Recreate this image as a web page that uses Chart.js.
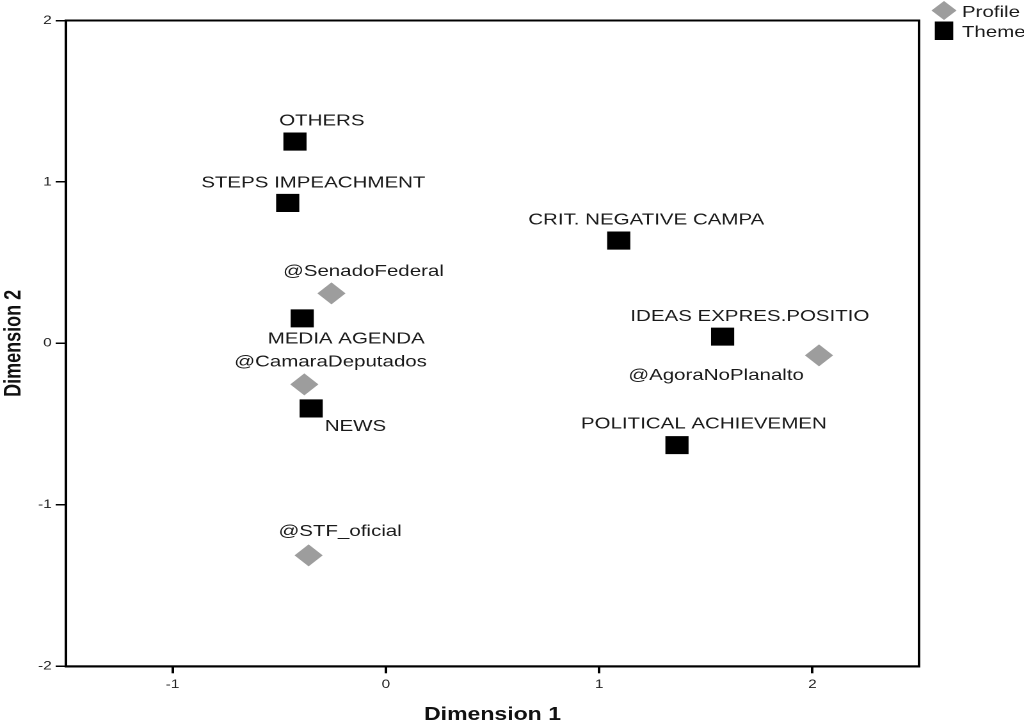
<!DOCTYPE html>
<html>
<head>
<meta charset="utf-8">
<script src="https://cdn.jsdelivr.net/npm/chart.js@4/dist/chart.umd.min.js"></script>
<style>
  html, body { margin: 0; padding: 0; background: #fff; }
  #wrap { width: 1024px; height: 721px; }
</style>
</head>
<body>
<div id="wrap">
  <!-- drawn at 800 wide and shown at 1024, like the stretched SPSS export -->
  <canvas id="mapChart" width="800" height="721" style="width:1024px;height:721px"></canvas>
</div>
<script>
// data
const profileLabels = ['@SenadoFederal', '@CamaraDeputados', '@AgoraNoPlanalto', '@STF_oficial'];
const profileX = [-0.255, -0.382, 2.031, -0.362];
const profileY = [0.31, -0.254, -0.074, -1.313];

const themeLabels = ['OTHERS', 'STEPS IMPEACHMENT', 'CRIT. NEGATIVE CAMPA', 'MEDIA AGENDA',
                     'IDEAS EXPRES.POSITIO', 'NEWS', 'POLITICAL ACHIEVEMEN'];
const themeX = [-0.426, -0.46, 1.092, -0.392, 1.579, -0.35, 1.365];
const themeY = [1.25, 0.87, 0.637, 0.155, 0.042, -0.403, -0.63];

const xTicks = [-1, 0, 1, 2];
const yTicks = [-2, -1, 0, 1, 2];

// where each label sits next to its point (px)
const labelShift = {
    'OTHERS': [21, -20.5],
    'STEPS IMPEACHMENT': [20, -20],
    'CRIT. NEGATIVE CAMPA': [21.5, -20.3],
    'MEDIA AGENDA': [34.4, 20.8],
    'IDEAS EXPRES.POSITIO': [21.3, -20],
    'NEWS': [34.6, 18],
    'POLITICAL ACHIEVEMEN': [21, -20.8],
    '@SenadoFederal': [25, -22],
    '@CamaraDeputados': [20.5, -22.3],
    '@AgoraNoPlanalto': [-80.4, 20],
    '@STF_oficial': [24.6, -23.7]
};

const grey = '#9d9d9d';

function toPoints(xs, ys){
    return xs.map((x, i) => ({ x: x, y: ys[i] }));
}

const pointLabels = {
    id: 'pointLabels',
    afterDatasetsDraw(chart){
        const ctx = chart.ctx;
        ctx.save();
        ctx.font = '16px "Liberation Sans", Arial, sans-serif';
        ctx.fillStyle = '#1a1a1a';
        ctx.textAlign = 'center';
        ctx.textBaseline = 'middle';
        chart.data.datasets.forEach((ds, d) => {
            const meta = chart.getDatasetMeta(d);
            meta.data.forEach((pt, i) => {
                const name = ds.names[i];
                const s = labelShift[name] || [0, -20];
                ctx.fillText(name, pt.x + s[0], pt.y + s[1]);
            });
        });
        ctx.restore();
    }
};

const frameAndLegend = {
    id: 'frameAndLegend',
    afterDraw(chart){
        const ctx = chart.ctx;
        const a = chart.chartArea;
        ctx.save();
        ctx.strokeStyle = '#000';
        ctx.lineWidth = 2;
        ctx.strokeRect(a.left, a.top, a.right - a.left, a.bottom - a.top);

        // legend, top right outside the frame
        const lx = 737.5;
        ctx.fillStyle = grey;
        ctx.beginPath();
        ctx.moveTo(lx - 9.8, 10.5);
        ctx.lineTo(lx, 1);
        ctx.lineTo(lx + 9.8, 10.5);
        ctx.lineTo(lx, 20);
        ctx.closePath();
        ctx.fill();
        ctx.fillStyle = '#000';
        ctx.fillRect(lx - 7.2, 21.5, 14.4, 18.5);

        ctx.font = '16px "Liberation Sans", Arial, sans-serif';
        ctx.fillStyle = '#1a1a1a';
        ctx.textAlign = 'left';
        ctx.textBaseline = 'middle';
        ctx.fillText(chart.data.datasets[0].label, 751.5, 12.5);
        ctx.fillText(chart.data.datasets[1].label, 751.5, 32.5);
        ctx.restore();
    }
};

new Chart('mapChart', {
    type: 'scatter',
    data: {
        datasets: [
        {
            label: 'Profile',
            names: profileLabels,
            data: toPoints(profileX, profileY),
            pointStyle: 'rectRot',
            pointRadius: 11,
            pointHoverRadius: 11,
            backgroundColor: grey,
            borderColor: grey,
            borderWidth: 0
        },
        {
            label: 'Theme',
            names: themeLabels,
            data: toPoints(themeX, themeY),
            pointStyle: 'rect',
            pointRadius: 12.8,
            pointHoverRadius: 12.8,
            backgroundColor: '#000',
            borderColor: '#000',
            borderWidth: 0
        }]
    },
    options: {
        responsive: false,
        devicePixelRatio: 2,
        animation: false,
        layout: { padding: { top: 20.5, right: 82, left: 0, bottom: 0 } },
        plugins: {
            legend: { display: false },
            tooltip: { enabled: false }
        },
        scales: {
            x: {
                type: 'linear',
                min: -1.5,
                max: 2.5,
                afterBuildTicks: scale => { scale.ticks = xTicks.map(v => ({ value: v })); },
                grid: { drawOnChartArea: false, drawTicks: true, tickLength: 7, color: '#000', lineWidth: 2 },
                border: { display: true, color: '#000', width: 2 },
                ticks: { color: '#222', padding: 4, font: { family: '"Liberation Sans", Arial', size: 12 } },
                title: {
                    display: true,
                    text: 'Dimension 1',
                    color: '#111',
                    padding: { top: 16.4, bottom: 3.5 },
                    font: { family: '"Liberation Sans", Arial', size: 18, weight: 'bold', lineHeight: 0.3 }
                }
            },
            y: {
                type: 'linear',
                min: -2,
                max: 2,
                afterBuildTicks: scale => { scale.ticks = yTicks.map(v => ({ value: v })); },
                grid: { drawOnChartArea: false, drawTicks: true, tickLength: 8, color: '#000', lineWidth: 1.5 },
                border: { display: true, color: '#000', width: 2 },
                ticks: { color: '#222', padding: 3, font: { family: '"Liberation Sans", Arial', size: 12 } },
                title: {
                    display: true,
                    text: 'Dimension 2',
                    color: '#111',
                    padding: { top: 0, bottom: 5.2 },
                    font: { family: '"Liberation Sans", Arial', size: 18, weight: 'bold', lineHeight: 1.2 }
                }
            }
        }
    },
    plugins: [pointLabels, frameAndLegend]
});
</script>
</body>
</html>
